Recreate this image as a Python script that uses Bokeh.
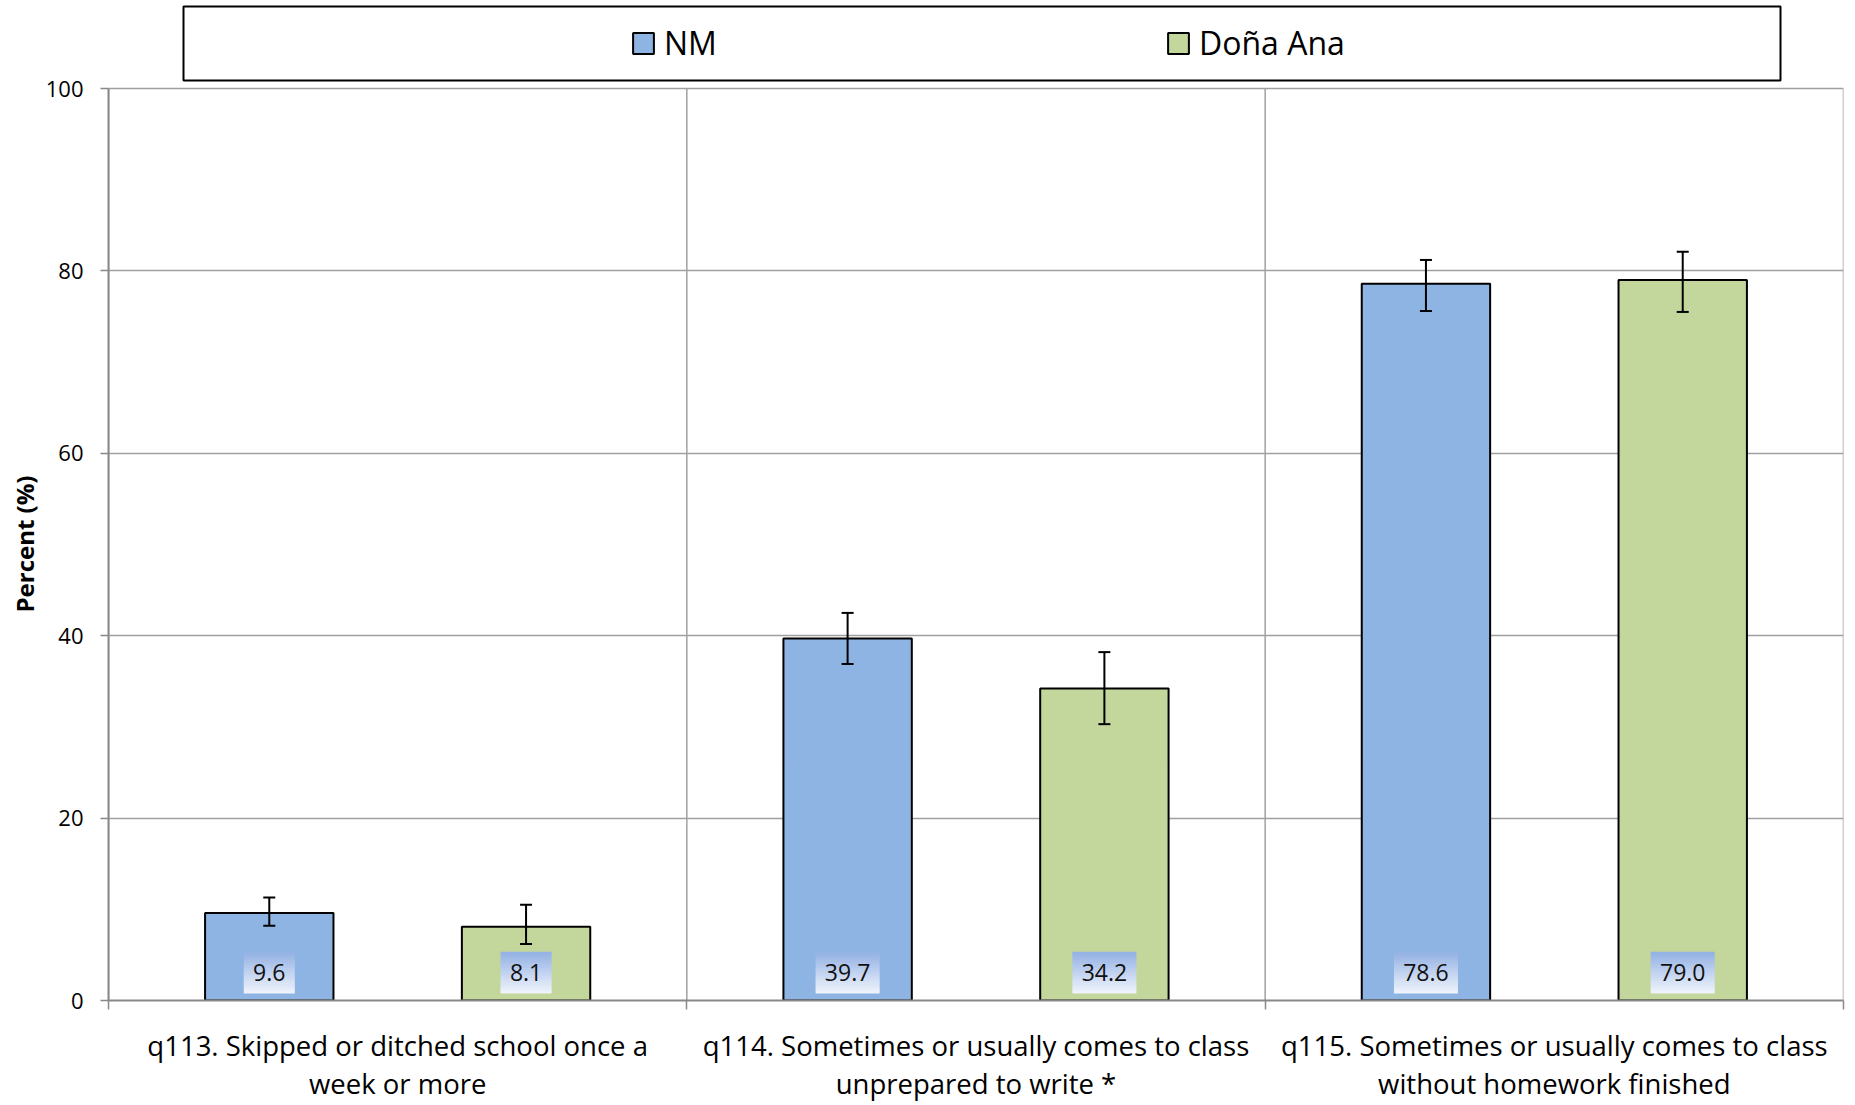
from bokeh.plotting import figure
from bokeh.models import (Range1d, FixedTicker, ColumnDataSource, Whisker, TeeHead,
                          Legend, LegendItem, Title)
from bokeh.embed import file_html
from bokeh.resources import INLINE
from bokeh.core.properties import value

# ---------------- data ----------------
categories = [
    "q113. Skipped or ditched school once a\nweek or more",
    "q114. Sometimes or usually comes to class\nunprepared to write *",
    "q115. Sometimes or usually comes to class\nwithout homework finished",
]
series = ["NM", "Doña Ana"]
nm_values = [9.6, 39.7, 78.6]
nm_lower = [8.2, 36.9, 75.6]
nm_upper = [11.3, 42.5, 81.2]
da_values = [8.1, 34.2, 79.0]
da_lower = [6.2, 30.3, 75.5]
da_upper = [10.5, 38.2, 82.1]
y_ticks = [0, 20, 40, 60, 80, 100]
y_title = "Percent (%)"

# ---------------- style / layout ----------------
FONT = "Open Sans"
NM_COLOR = "#8eb4e3"
DA_COLOR = "#c3d69b"
GRID = "#a0a0a0"
AXIS = "#888888"

PAGE_W, PAGE_H = 1855, 1105
FRAME_L, FRAME_R = 108, 1843          # page px
FRAME_W = FRAME_R - FRAME_L
AXIS_Y = 1000                         # page px of value 0
TOP_Y = 88                            # page px of value 100
BOTTOM_BORDER = PAGE_H - AXIS_Y
Y_MAX = 100
PX = (AXIS_Y - TOP_Y) / Y_MAX         # px per percent
Y_END = AXIS_Y / PX                   # frame reaches the page top (legend lives there)

n = len(categories)
centers = [i + 0.5 for i in range(n)]
bounds = list(range(n + 1))
dodge = 0.222
bar_w = 0.222
XPX = FRAME_W / n                     # px per category unit

p = figure(width=PAGE_W, height=PAGE_H, x_range=Range1d(0, n), y_range=Range1d(0, Y_END),
           output_backend="svg", toolbar_location=None,
           min_border_left=FRAME_L, min_border_right=PAGE_W - FRAME_R,
           min_border_top=0, min_border_bottom=BOTTOM_BORDER)
p.outline_line_color = None
p.background_fill_color = "white"
p.border_fill_color = "white"

# grids: horizontal via Grid, vertical category dividers limited to 0..100
p.xgrid.visible = False
p.ygrid.grid_line_color = GRID
p.ygrid.grid_line_width = 1.5
p.segment(x0=bounds, y0=[0] * len(bounds), x1=bounds, y1=[Y_MAX] * len(bounds),
          line_color=GRID, line_width=1.5)

# y axis
p.yaxis.ticker = FixedTicker(ticks=y_ticks)
p.yaxis.bounds = (0, Y_MAX)
p.yaxis.axis_line_color = AXIS
p.yaxis.axis_line_width = 2
p.yaxis.major_tick_line_color = AXIS
p.yaxis.major_tick_line_width = 1.5
p.yaxis.major_tick_out = 8
p.yaxis.major_tick_in = 0
p.yaxis.minor_tick_line_color = None
p.yaxis.major_label_text_font = FONT
p.yaxis.major_label_text_font_size = "22px"
p.yaxis.major_label_text_color = "black"
p.yaxis.major_label_standoff = 17

# y title in the left panel, placed at the middle of the 0..100 span
mid_px = (TOP_Y + AXIS_Y) / 2
TITLE_HALF_LEN = 68
p.add_layout(Title(text=y_title, align="left",
                   offset=AXIS_Y - (mid_px + TITLE_HALF_LEN),
                   text_font=FONT, text_font_size="24px", text_font_style="bold",
                   text_color="black", standoff=4), "left")

# x axis (labels at category centres, minor ticks at category boundaries)
p.xaxis.ticker = FixedTicker(ticks=centers, minor_ticks=bounds)
p.xaxis.major_label_overrides = {c: lab for c, lab in zip(centers, categories)}
p.xaxis.axis_line_color = AXIS
p.xaxis.axis_line_width = 2
p.xaxis.major_tick_line_color = None
p.xaxis.major_tick_out = 0
p.xaxis.major_tick_in = 0
p.xaxis.minor_tick_line_color = AXIS
p.xaxis.minor_tick_line_width = 1.5
p.xaxis.minor_tick_out = 9
p.xaxis.minor_tick_in = 0
p.xaxis.major_label_text_font = FONT
p.xaxis.major_label_text_font_size = "27.5px"
p.xaxis.major_label_text_color = "black"
p.xaxis.major_label_text_line_height = 1.04
p.xaxis.major_label_standoff = 17

# bars
nm_x = [c - dodge for c in centers]
da_x = [c + dodge for c in centers]
src_nm = ColumnDataSource(dict(x=nm_x, top=nm_values, lower=nm_lower, upper=nm_upper))
src_da = ColumnDataSource(dict(x=da_x, top=da_values, lower=da_lower, upper=da_upper))
r_nm = p.vbar(x="x", top="top", bottom=0, width=bar_w, source=src_nm,
              fill_color=NM_COLOR, line_color="black", line_width=2)
r_da = p.vbar(x="x", top="top", bottom=0, width=bar_w, source=src_da,
              fill_color=DA_COLOR, line_color="black", line_width=2)

# value label boxes with a vertical gradient (blue -> white)
BOX_BOTTOM_PX = 7.3
BOX_H_PX = 41.0
N_STRIPS = 16
top_rgb = (0x93, 0xb1, 0xe4)
bot_rgb = (0xf1, 0xf5, 0xfc)
all_x = nm_x + da_x
all_lab = [f"{v:.1f}" for v in nm_values] + [f"{v:.1f}" for v in da_values]
box_w = [13 * len(t) + 12 for t in all_lab]
hk = BOX_H_PX / N_STRIPS
for k in range(N_STRIPS):
    t = (k + 0.5) / N_STRIPS  # 0 bottom -> 1 top
    rgb = tuple(int(round(b + (a - b) * t)) for a, b in zip(top_rgb, bot_rgb))
    col = "#%02x%02x%02x" % rgb
    yc = (BOX_BOTTOM_PX + (k + 0.5) * hk) / PX
    p.rect(x=all_x, y=[yc] * len(all_x), width=box_w, height=hk + 0.7,
           width_units="screen", height_units="screen",
           fill_color=col, line_color=None)

p.text(x=all_x, y=[0] * len(all_x), text=all_lab,
       y_offset=-(BOX_BOTTOM_PX + BOX_H_PX / 2),
       text_align="center", text_baseline="middle",
       text_font=value(FONT), text_font_size="23px", text_color="#111111")

# error bars
for src in (src_nm, src_da):
    p.add_layout(Whisker(source=src, base="x", upper="upper", lower="lower",
                         dimension="height", line_color="black", line_width=2,
                         level="overlay",
                         upper_head=TeeHead(size=12, line_width=2, line_color="black"),
                         lower_head=TeeHead(size=12, line_width=2, line_color="black")))

# ---------------- legend (above the plot area, inside its own box) ----------------
BOX_PX = (183, 1780, 6, 80)   # left, right, top, bottom in page px
box_l = (BOX_PX[0] - FRAME_L) / XPX
box_r = (BOX_PX[1] - FRAME_L) / XPX
box_t = (AXIS_Y - BOX_PX[2]) / PX
box_b = (AXIS_Y - BOX_PX[3]) / PX
p.quad(left=[box_l], right=[box_r], top=[box_t], bottom=[box_b],
       fill_color="white", line_color="black", line_width=2)

LEG_H = 42
legend = Legend(items=[LegendItem(label=series[0], renderers=[r_nm]),
                       LegendItem(label=series[1], renderers=[r_da])],
                orientation="horizontal",
                location=(630 - FRAME_L, AXIS_Y - (BOX_PX[2] + BOX_PX[3]) / 2 - LEG_H / 2),
                glyph_width=26, glyph_height=26, label_standoff=8,
                label_width=60, spacing=441, padding=0, margin=0,
                border_line_color=None, background_fill_alpha=0,
                label_text_font=FONT, label_text_font_size="32px",
                label_text_color="black")
p.add_layout(legend, "center")

open("out.html", "w", encoding="utf-8").write(file_html(p, INLINE))
